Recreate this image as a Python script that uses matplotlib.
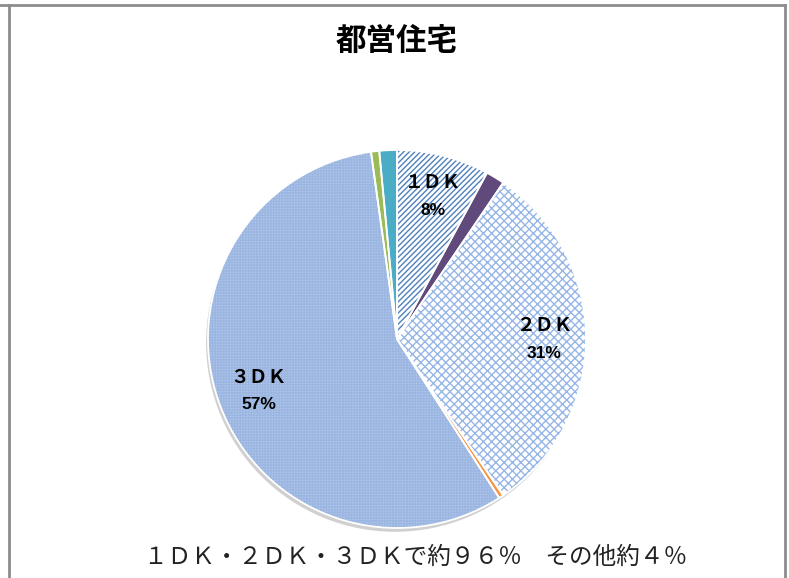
import numpy as np
import matplotlib
matplotlib.use('Agg')
import matplotlib.pyplot as plt
from matplotlib.patches import Circle, Wedge
from matplotlib.lines import Line2D

plt.rcParams['font.family'] = ['Noto Sans CJK JP', 'DejaVu Sans']
plt.rcParams['hatch.linewidth'] = 1.0

# ---- data ----
title = '都営住宅'
categories = ['１ＤＫ', 'その他①', '２ＤＫ', 'その他②', '３ＤＫ', 'その他③', 'その他④']
values = [7.9, 1.6, 31.0, 0.4, 56.9, 0.7, 1.5]
show_label = [True, False, True, False, True, False, False]
footnote = '１ＤＫ・２ＤＫ・３ＤＫで約９６％　その他約４％'

# ---- styles ----
faces = ['white', '#604a7b', 'white', '#f79646', '#b4c8ea', '#9bbb59', '#4bacc6']
hatch_colors = ['#4f81bd', '#604a7b', '#95b6e6', '#f79646', '#9cb6e2', '#9bbb59', '#4bacc6']
hatches = ['//////', None, 'xxxx', None, '++++++', None, None]

W, H = 789, 578
cx, cy, R = 397, 339, 189  # pixel geometry of pie

fig = plt.figure(figsize=(W / 100, H / 100), dpi=100)
ax = fig.add_axes([0, 0, 1, 1])

wedges, _ = ax.pie(values, startangle=90, counterclock=False, radius=1.0,
                   colors=faces, wedgeprops=dict(linewidth=0))
ax.set_aspect('auto')
ax.set_xlim(-cx / R, (W - cx) / R)
ax.set_ylim(-(H - cy) / R, cy / R)
ax.axis('off')

# shadow
ax.add_patch(Circle((-0.01, -0.02), 1.0, facecolor='#d0d0d0', edgecolor='none', zorder=1))

for w, h, hc in zip(wedges, hatches, hatch_colors):
    w.set_zorder(2)
    w.set_edgecolor(hc)
    w.set_linewidth(0)
    if h:
        w.set_hatch(h)
    # white separators
    o = Wedge(w.center, w.r, w.theta1, w.theta2, facecolor='none',
              edgecolor='white', linewidth=1.3, zorder=3)
    ax.add_patch(o)

total = sum(values)
start = 90.0
for lab, v, s in zip(categories, values, show_label):
    span = v / total * 360
    mid = np.deg2rad(start - span / 2)
    start -= span
    if not s:
        continue
    r = 0.78
    x, y = r * np.cos(mid), r * np.sin(mid)
    ax.text(x, y + 0.07, lab, ha='center', va='center', fontsize=13.5,
            fontweight='bold', color='black', zorder=5,
            family=['Noto Sans CJK JP', 'DejaVu Sans'])
    ax.text(x, y - 0.075, f'{round(v)}%', ha='center', va='center', fontsize=12.5,
            fontweight='bold', color='black', zorder=5, family=['Liberation Sans'])

fig.text(397 / W, 1 - 41 / H, title, ha='center', va='center', fontsize=22,
         fontweight='bold', color='black')
fig.text(416 / W, 1 - 557 / H, footnote, ha='center', va='center', fontsize=17,
         color='#222222')

# border
lc = '#8c8c8c'
fig.add_artist(Line2D([0, 785 / W], [1 - 4.5 / H] * 2, color=lc, lw=2, transform=fig.transFigure))
fig.add_artist(Line2D([8.5 / W] * 2, [0, 1 - 4.5 / H], color=lc, lw=2, transform=fig.transFigure))
fig.add_artist(Line2D([784.5 / W] * 2, [0, 1 - 4.5 / H], color=lc, lw=2, transform=fig.transFigure))

fig.savefig('out.png', dpi=100, facecolor='white')
